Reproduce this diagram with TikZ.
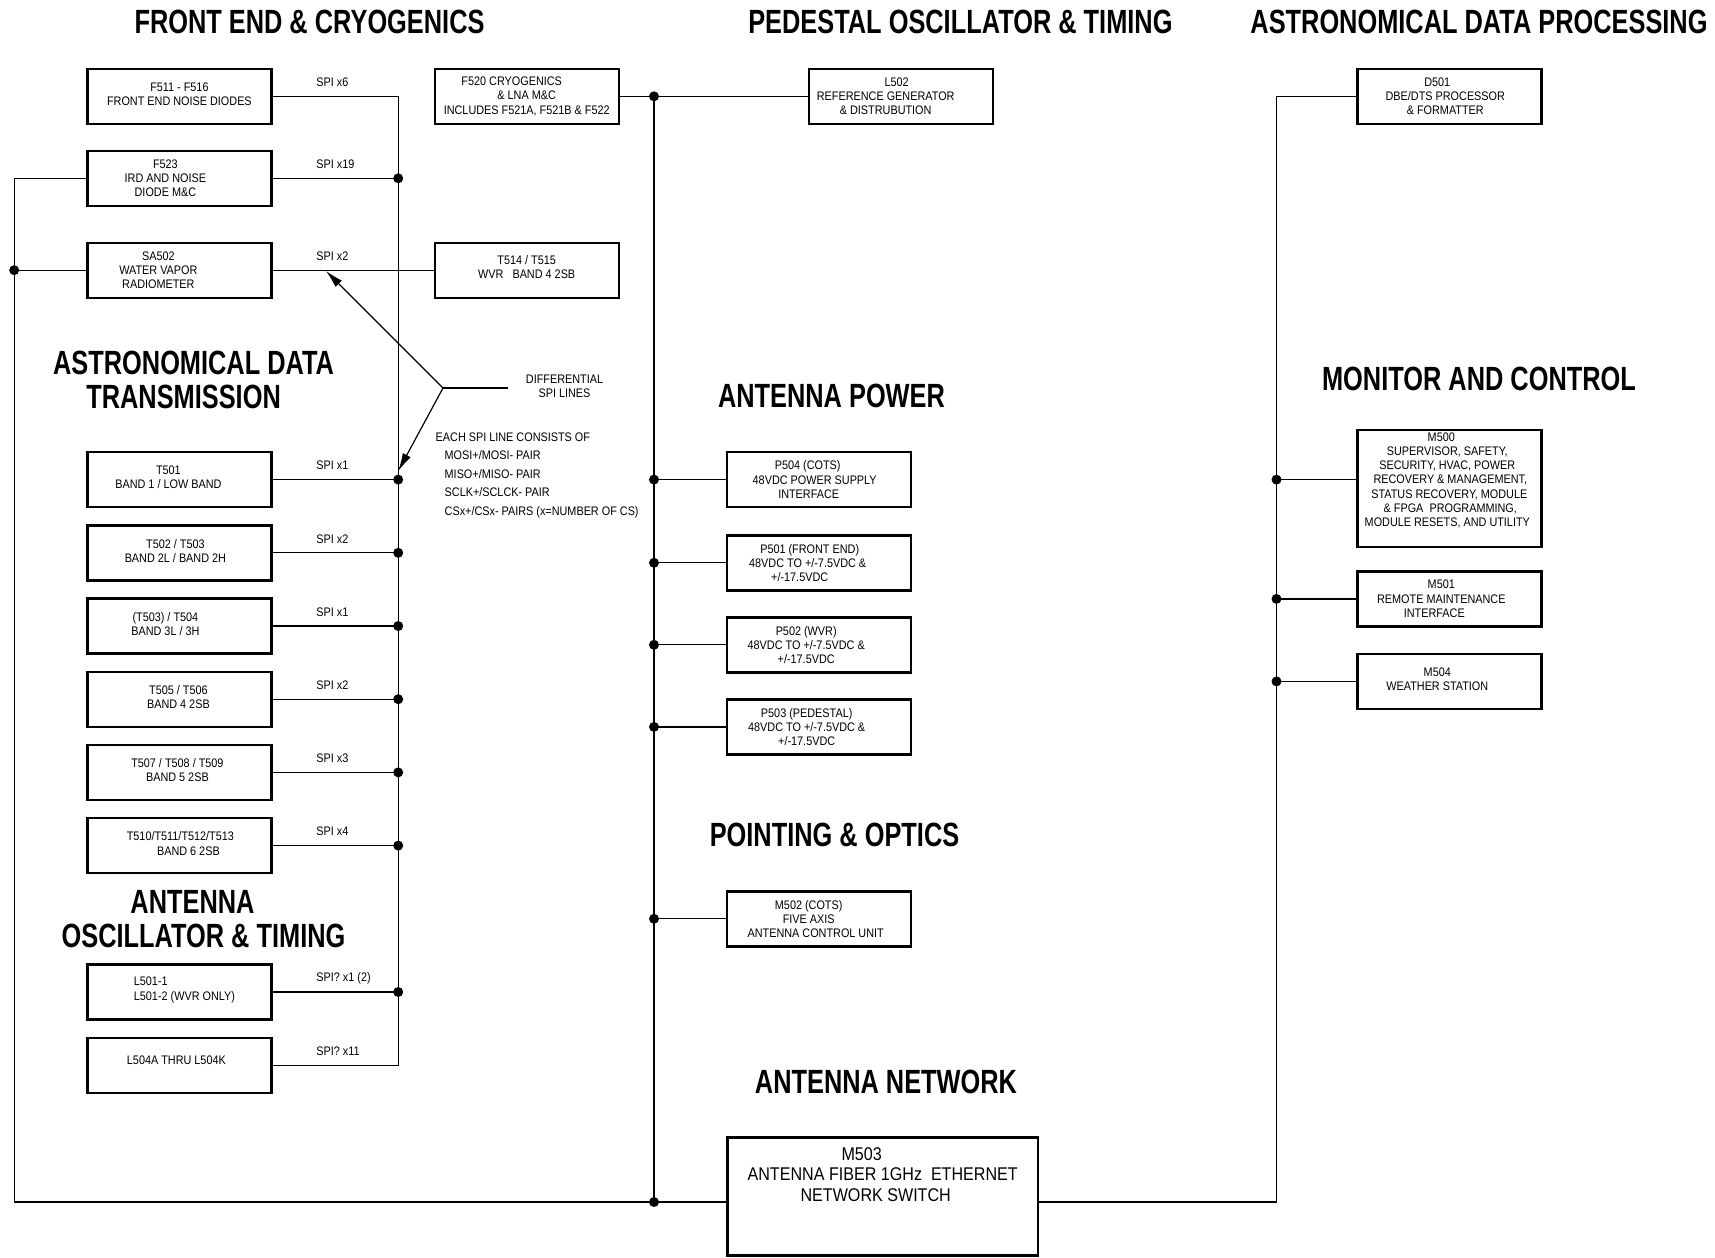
\documentclass[tikz,border=0pt]{standalone}
\usepackage{fontspec}
\newfontfamily\bodyf[FakeStretch=0.875]{Liberation Sans}
\newfontfamily\headf[FakeStretch=0.755]{Liberation Sans}
\usetikzlibrary{arrows.meta,calc}
\begin{document}
\begin{tikzpicture}[x=0.5pt,y=-0.5pt,
  box/.style={draw, line width=1.2pt, minimum width=92pt, minimum height=27.5pt, inner sep=0pt},
  wire/.style={line width=0.6pt},
  txt/.style={font=\bodyf\fontsize{6.2}{7.1}\selectfont, align=center, inner sep=0pt},
  bigtxt/.style={font=\bodyf\fontsize{9.2}{10.4}\selectfont, align=center, inner sep=0pt},
  head/.style={font=\headf\bfseries\fontsize{16.8}{17}\selectfont, align=center, inner sep=0pt},
  dot/.style={circle, fill=black, inner sep=0pt, minimum size=5pt},
  spi/.style={font=\bodyf\fontsize{6.2}{7.1}\selectfont, anchor=west, inner sep=0pt}]
\useasboundingbox (0,0) rectangle (1715,1258);

% reference coordinates
\coordinate (busx) at (398.2,0);
\coordinate (lx) at (14.2,0);
\coordinate (cx) at (654,0);
\coordinate (rx) at (1276.5,0);
\coordinate (bot) at (0,1202);
\coordinate (spix) at (316,0);

% headings
\node[head] (h1) at (309.5,22) {FRONT END \& CRYOGENICS};
\node[head] (h2) at (960.4,22) {PEDESTAL OSCILLATOR \& TIMING};
\node[head] (h3) at (1479,22) {ASTRONOMICAL DATA PROCESSING};
\node[head] (h4) at (193.6,379.6) {ASTRONOMICAL DATA\\TRANSMISSION\hspace*{10pt}};
\node[head] (h5) at (831.5,396) {ANTENNA POWER};
\node[head] (h6) at (1479,378.5) {MONITOR AND CONTROL};
\node[head] (h7) at (834.5,834.6) {POINTING \& OPTICS};
\node[head] (h8) at (203.5,918.8) {ANTENNA\hspace*{11pt}\\OSCILLATOR \& TIMING};
\node[head] (h9) at (886,1081.8) {ANTENNA NETWORK};

% left column boxes
\node[box] (f511) at (179.4,96.3) {};
\node[box] (f523) at (179.4,178.3) {};
\node[box] (sa502) at (179.4,270.2) {};
\node[box] (t501) at (179.4,479.6) {};
\node[box] (t502) at (179.4,552.8) {};
\node[box] (t503) at (179.4,626) {};
\node[box] (t505) at (179.4,699.2) {};
\node[box] (t507) at (179.4,772.4) {};
\node[box] (t510) at (179.4,845.6) {};
\node[box] (l501) at (179.4,992) {};
\node[box] (l504) at (179.4,1065.2) {};
% second column
\node[box] (f520) at (526.7,96.3) {};
\node[box] (t514) at (526.7,270.2) {};
\node[box] (l502) at (900.7,96.3) {};
% power column
\node[box] (p504) at (818.7,479.6) {};
\node[box] (p501) at (818.7,562.8) {};
\node[box] (p502) at (818.7,644.8) {};
\node[box] (p503) at (818.7,726.9) {};
\node[box] (m502) at (818.7,918.8) {};
\node[box, minimum width=155.3pt, minimum height=59pt] (m503) at (882.7,1196.6) {};
% right column
\node[box] (d501) at (1449.3,96.3) {};
\node[box, minimum height=58.5pt] (m500) at (1449.3,488.4) {};
\node[box] (m501) at (1449.3,598.9) {};
\node[box] (m504) at (1449.3,681.4) {};

% box texts
\node[txt] (f511t) at ($(f511)+(0,-2)$) {F511 - F516\\FRONT END NOISE DIODES};
\node[txt] (f523t) at ($(f523)+(-14,0)$) {F523\\IRD AND NOISE\\DIODE M\&C};
\node[txt] (sa502t) at ($(sa502)+(-21,0)$) {SA502\\WATER VAPOR\\RADIOMETER};
\node[txt] (f520t) at (f520) {F520 CRYOGENICS\hspace*{15pt}\\\& LNA M\&C\hspace*{15pt}\\INCLUDES F521A, F521B \& F522};
\node[txt] (l502t) at ($(l502)+(-15,0)$) {\hspace*{11pt}L502\\REFERENCE GENERATOR\\\& DISTRUBUTION};
\node[txt] (t514t) at ($(t514)+(0,-3)$) {T514 / T515\\WVR~~~BAND 4 2SB};
\node[txt] (d501t) at ($(d501)+(-4,0)$) {D501\hspace*{8pt}\\DBE/DTS PROCESSOR\\\& FORMATTER};
\node[txt] (t501t) at ($(t501)+(-11,-2)$) {T501\\BAND 1 / LOW BAND};
\node[txt] (t502t) at ($(t502)+(-4,-2)$) {T502 / T503\\BAND 2L / BAND 2H};
\node[txt] (t503t) at ($(t503)+(-14,-2)$) {(T503) / T504\\BAND 3L / 3H};
\node[txt] (t505t) at ($(t505)+(-1,-2)$) {T505 / T506\\BAND 4 2SB};
\node[txt] (t507t) at ($(t507)+(-2,-2)$) {T507 / T508 / T509\\BAND 5 2SB};
\node[txt] (t510t) at ($(t510)+(1,-2)$) {T510/T511/T512/T513\\\hspace*{8pt}BAND 6 2SB};
\node[txt, align=left, anchor=west] (l501t) at (133.5,990) {L501-1\\L501-2 (WVR ONLY)};
\node[txt] (l504t) at ($(l504)+(-3,-5)$) {L504A THRU L504K};
\node[txt] (p504t) at ($(p504)+(-10,0)$) {P504 (COTS)\hspace*{1pt}\\\hspace*{6pt}48VDC POWER SUPPLY\\INTERFACE};
\node[txt] (p501t) at ($(p501)+(-11,0)$) {\hspace*{2pt}P501 (FRONT END)\\48VDC TO +/-7.5VDC \&\\+/-17.5VDC\hspace*{8pt}};
\node[txt] (p502t) at ($(p502)+(-12.5,0)$) {P502 (WVR)\\48VDC TO +/-7.5VDC \&\\+/-17.5VDC};
\node[txt] (p503t) at ($(p503)+(-12,0)$) {P503 (PEDESTAL)\\48VDC TO +/-7.5VDC \&\\+/-17.5VDC};
\node[txt] (m502t) at ($(m502)+(-10,0)$) {M502 (COTS)\\FIVE AXIS\\\hspace*{7pt}ANTENNA CONTROL UNIT};
\node[txt] (m500t) at ($(m500)+(-2,-8)$) {M500\hspace*{6pt}\\SUPERVISOR, SAFETY,\hspace*{6pt}\\SECURITY, HVAC, POWER\hspace*{8pt}\\\hspace*{3pt}RECOVERY \& MANAGEMENT,\\\hspace*{2pt}STATUS RECOVERY, MODULE\\\hspace*{3pt}\& FPGA~ PROGRAMMING,\\MODULE RESETS, AND UTILITY};
\node[txt] (m501t) at ($(m501)+(-8,0)$) {M501\\REMOTE MAINTENANCE\\INTERFACE\hspace*{7pt}};
\node[txt] (m504t) at ($(m504)+(-12,-2)$) {M504\\WEATHER STATION};
\node[bigtxt] (m503t) at ($(m503)+(0,-22)$) {M503\hspace*{21pt}\\ANTENNA FIBER 1GHz~ ETHERNET\\NETWORK SWITCH\hspace*{7pt}};

% SPI bus
\draw[wire] (f511.east) -- (f511.east -| busx) -- (l504.east -| busx) -- (l504.east);
\foreach \n in {f523,t501,t502,t503,t505,t507,t510,l501} {
  \draw[wire] (\n.east) -- (\n.east -| busx) node[dot] (dot-\n) {};
}
\draw[wire] (sa502.east) -- (t514.west);

% SPI labels
\node[spi] (s-f511) at ($(f511.east -| spix)+(0,-14)$) {SPI x6};
\node[spi] (s-f523) at ($(f523.east -| spix)+(0,-14)$) {SPI x19};
\node[spi] (s-sa502) at ($(sa502.east -| spix)+(0,-14)$) {SPI x2};
\node[spi] (s-t501) at ($(t501.east -| spix)+(0,-14)$) {SPI x1};
\node[spi] (s-t502) at ($(t502.east -| spix)+(0,-14)$) {SPI x2};
\node[spi] (s-t503) at ($(t503.east -| spix)+(0,-14)$) {SPI x1};
\node[spi] (s-t505) at ($(t505.east -| spix)+(0,-14)$) {SPI x2};
\node[spi] (s-t507) at ($(t507.east -| spix)+(0,-14)$) {SPI x3};
\node[spi] (s-t510) at ($(t510.east -| spix)+(0,-14)$) {SPI x4};
\node[spi] (s-l501) at ($(l501.east -| spix)+(0,-14)$) {SPI? x1 (2)};
\node[spi] (s-l504) at ($(l504.east -| spix)+(0,-14)$) {SPI? x11};

% left outer network line
\draw[wire] (f523.west) -- (f523.west -| lx) -- (bot -| lx) -- (m503.west |- bot);
\draw[wire] (sa502.west) -- (sa502.west -| lx) node[dot] (dot-sa) {};
\node[dot] (dot-bot) at (bot -| cx) {};

% central line
\draw[wire] (f520.east) -- (l502.west);
\node[dot] (dot-top) at (f520.east -| cx) {};
\draw[wire] (f520.east -| cx) -- (bot -| cx);
\foreach \n in {p504,p501,p502,p503,m502} {
  \draw[wire] (\n.west) -- (\n.west -| cx) node[dot] (dot-\n) {};
}

% right line
\draw[wire] (m503.east |- bot) -- (bot -| rx) -- (d501.west -| rx) -- (d501.west);
\draw[wire] (m500.west |- p504) -- (p504 -| rx) node[dot] (dot-m500) {};
\foreach \n in {m501,m504} {
  \draw[wire] (\n.west) -- (\n.west -| rx) node[dot] (dot-\n) {};
}

% differential SPI annotation
\coordinate (vtx) at (443,388);
\coordinate (dend) at (508,388);
\coordinate (tip1) at (326,271);
\coordinate (tip2) at (398.2,471);
\draw[wire] (dend) -- (vtx);
\draw[wire, -{Latex[length=9pt,width=4.5pt]}] (vtx) -- (tip1);
\draw[wire, -{Latex[length=9pt,width=4.5pt]}] (vtx) -- (tip2);
\node[txt] (diff) at (564.5,386) {DIFFERENTIAL\\SPI LINES};
\node[txt, align=left, anchor=west, font=\bodyf\fontsize{6.2}{9.3}\selectfont] (each) at (435.3,475.3)
  {EACH SPI LINE CONSISTS OF\\\hspace*{4.5pt}MOSI+/MOSI- PAIR\\\hspace*{4.5pt}MISO+/MISO- PAIR\\\hspace*{4.5pt}SCLK+/SCLCK- PAIR\\\hspace*{4.5pt}CSx+/CSx- PAIRS (x=NUMBER OF CS)};
\end{tikzpicture}
\end{document}
